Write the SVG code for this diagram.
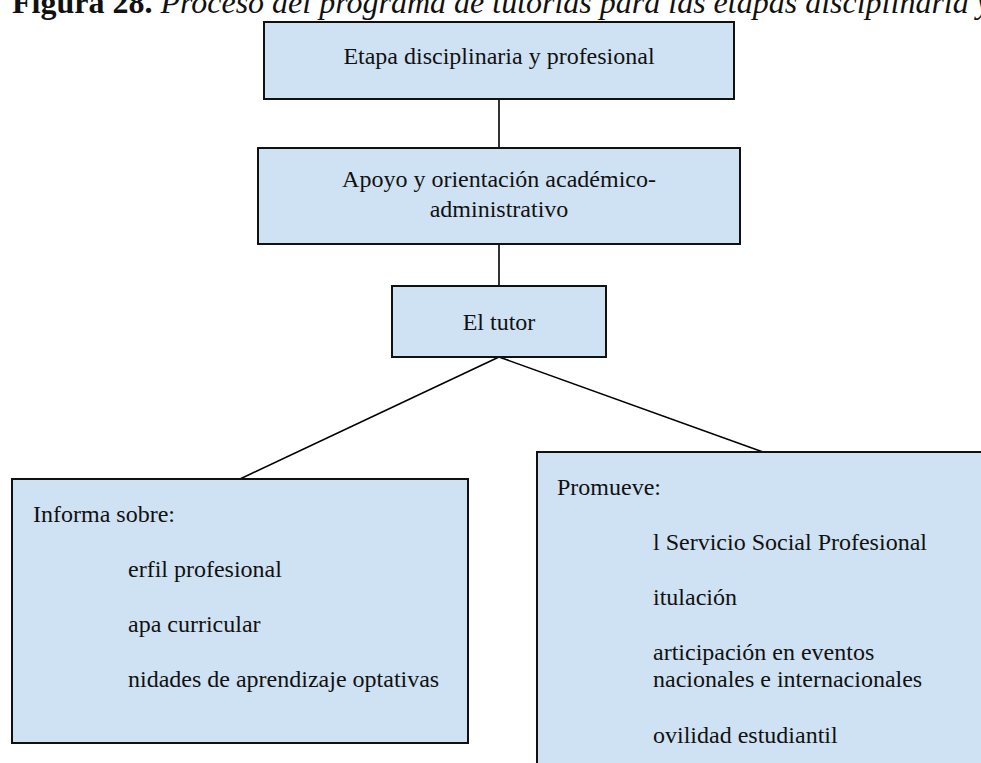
<svg xmlns="http://www.w3.org/2000/svg" width="981" height="763" viewBox="0 0 981 763">
<style>
.box{fill:#cfe2f3;stroke:#111;stroke-width:2}
.t{font-family:"Liberation Serif","Times New Roman",serif;font-size:24px;fill:#111}
.c{text-anchor:middle}
.ln{stroke:#000;stroke-width:1.6;fill:none}
.title{font-family:"Liberation Serif","Times New Roman",serif;font-size:32px;fill:#111}
</style>
<rect width="981" height="763" fill="#fff"/>
<text class="title" x="12" y="12.5"><tspan font-weight="bold">Figura 28.</tspan><tspan font-style="italic"> Proceso del programa de tutorías para las etapas disciplinaria y</tspan></text>
<g id="connectors">
<line class="ln" x1="499" y1="99" x2="499" y2="148"/>
<line class="ln" x1="499" y1="244" x2="499" y2="286"/>
<line class="ln" x1="499" y1="357" x2="240" y2="479"/>
<line class="ln" x1="499" y1="357" x2="763" y2="452"/>
</g>
<g id="n1">
<rect class="box" x="264" y="22" width="470" height="77"/>
<text class="t c" x="499" y="64">Etapa disciplinaria y profesional</text>
</g>
<g id="n2">
<rect class="box" x="258" y="148" width="482" height="96"/>
<text class="t c" x="499" y="187">Apoyo y orientación académico-</text>
<text class="t c" x="499" y="216.5">administrativo</text>
</g>
<g id="n3">
<rect class="box" x="392" y="286" width="214" height="71"/>
<text class="t c" x="499" y="330">El tutor</text>
</g>
<g id="n4">
<rect class="box" x="12" y="479" width="456" height="264"/>
<text class="t" x="33" y="521.7">Informa sobre:</text>
<text class="t" x="128" y="576.7">erfil profesional</text>
<text class="t" x="128" y="631.7">apa curricular</text>
<text class="t" x="128" y="686.7">nidades de aprendizaje optativas</text>
</g>
<g id="n5">
<rect class="box" x="537" y="452" width="460" height="330"/>
<text class="t" x="557" y="495">Promueve:</text>
<text class="t" x="653" y="550">l Servicio Social Profesional</text>
<text class="t" x="653" y="605">itulación</text>
<text class="t" x="653" y="660">articipación en eventos</text>
<text class="t" x="653" y="687">nacionales e internacionales</text>
<text class="t" x="653" y="742.5">ovilidad estudiantil</text>
</g>
</svg>
